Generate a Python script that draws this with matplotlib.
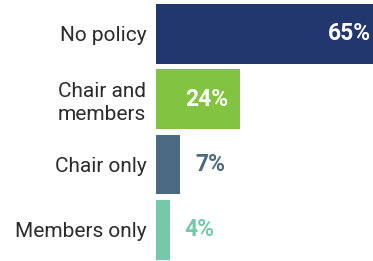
import matplotlib
matplotlib.use("Agg")
import matplotlib.pyplot as plt

plt.rcParams["font.family"] = ["Roboto", "DejaVu Sans"]

categories = ["No policy", "Chair and\nmembers", "Chair only", "Members only"]
values = [65, 24, 7, 4]
colors = ["#22376E", "#82C341", "#4A6B82", "#76C9A8"]

W, H = 373, 261
fig = plt.figure(figsize=(W / 100, H / 100), dpi=100)
# axes run past the right edge so the big bar is cut off like in the original
left, right = 156, 383
top, bottom = 1.1, 262.5
ax = fig.add_axes([left / W, (H - bottom) / H, (right - left) / W, (bottom - top) / H])

y = range(len(categories))
ax.barh(y, values, height=0.91, color=colors)
ax.set_xlim(0, 65)
ax.set_ylim(3.5, -0.5)

for i, (v, c) in enumerate(zip(values, colors)):
    if v > 15:
        ax.annotate(f"{v}%", (v, i), xytext=(-8.5, 0), textcoords="offset points",
                    ha="right", va="center", color="white", fontsize=16.5, fontweight="bold")
    else:
        ax.annotate(f"{v}%", (v, i), xytext=(10.5, 0), textcoords="offset points",
                    ha="left", va="center", color=c, fontsize=16.5, fontweight="bold")

ax.set_yticks(list(y))
ax.set_yticklabels(categories, fontsize=15, color="#2b2b2b", linespacing=1.25)
ax.tick_params(axis="y", length=0, pad=7)
ax.set_xticks([])
for s in ax.spines.values():
    s.set_visible(False)

fig.savefig("out.png", dpi=100)
